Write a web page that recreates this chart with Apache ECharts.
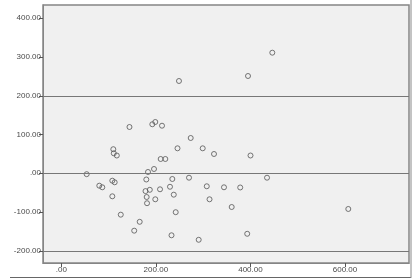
<!DOCTYPE html>
<html>
<head>
<meta charset="utf-8">
<style>html,body{margin:0;padding:0;background:#fff}#c{width:416px;height:279px}</style>
<script src="https://cdn.jsdelivr.net/npm/echarts@6/dist/echarts.min.js"></script>
</head>
<body>
<div id="c"></div>
<script>
var xValues = [446.3,394.9,248.9,144.2,192.5,198.8,213.0,273.7,245.8,299.1,323.0,400.2,210.2,220.0,196.1,183.4,179.8,234.8,270.1,435.1,53.7,110.0,111.0,117.4,80.4,86.7,107.9,112.9,107.9,125.8,154.2,165.8,178.1,187.2,208.8,229.9,307.7,344.1,378.4,180.6,237.9,198.8,181.3,313.5,242.0,360.4,233.1,290.6,393.2,607.0];
var yValues = [311.2,251.1,238.2,119.5,126.5,132.4,122.8,91.1,64.5,64.5,49.8,45.9,36.9,36.9,11.1,3.4,-16.0,-14.7,-11.4,-11.4,-2.3,62.2,51.6,45.9,-32.0,-36.1,-19.1,-23.2,-59.4,-106.8,-148.1,-125.2,-45.9,-42.6,-41.3,-34.8,-33.5,-36.1,-36.6,-61.2,-55.2,-67.1,-77.2,-67.1,-100.4,-87.0,-160.0,-171.6,-156.1,-92.1];
var xTicks = [0,200,400,600];
var yTicks = [-200,-100,0,100,200,300,400];
var refLines = [200,0,-200];

function fmt(v){ var s = Math.abs(v).toFixed(2); if (Math.abs(v) < 1) s = '.00'; return (v<0?'-':'') + s; }

var pts = xValues.map(function(x,i){ return [x, yValues[i]]; });
var chart = echarts.init(document.getElementById('c'), null, {renderer:'canvas'});
chart.setOption({
  animation:false,
  grid:{left:43, top:5, right:7, bottom:16, show:true, backgroundColor:'#f0f0f0', borderColor:'#858585', borderWidth:1.5},
  xAxis:{type:'value', min:-38.7, max:735.4,
    axisLine:{show:true, onZero:false, lineStyle:{color:'#858585', width:1}},
    axisTick:{show:true, length:4, customValues:xTicks, lineStyle:{color:'#555'}},
    axisLabel:{customValues:xTicks, formatter:fmt, fontSize:8, color:'#4a4a4a', fontFamily:'Liberation Sans', margin:3},
    splitLine:{show:false}},
  yAxis:{type:'value', min:-231.5, max:434.3,
    axisLine:{show:true, onZero:false, lineStyle:{color:'#858585', width:1}},
    axisTick:{show:true, length:4, customValues:yTicks, lineStyle:{color:'#555'}},
    axisLabel:{customValues:yTicks, formatter:fmt, fontSize:8, color:'#4a4a4a', fontFamily:'Liberation Sans', margin:2},
    splitLine:{show:false}},
  graphic:[
    {type:'line', shape:{x1:10,y1:277.5,x2:411,y2:277.5}, style:{stroke:'#666', lineWidth:1}},
    {type:'line', shape:{x1:411,y1:0,x2:411,y2:278}, style:{stroke:'#888', lineWidth:1}}
  ],
  series:[{
    type:'scatter', data:pts, symbol:'circle', symbolSize:5,
    itemStyle:{color:'transparent', borderColor:'#555', borderWidth:1},
    markLine:{silent:true, symbol:'none', label:{show:false},
      lineStyle:{color:'#777', type:'solid', width:1},
      data:refLines.map(function(v){ return {yAxis:v}; })}
  }]
});
</script>
</body>
</html>
